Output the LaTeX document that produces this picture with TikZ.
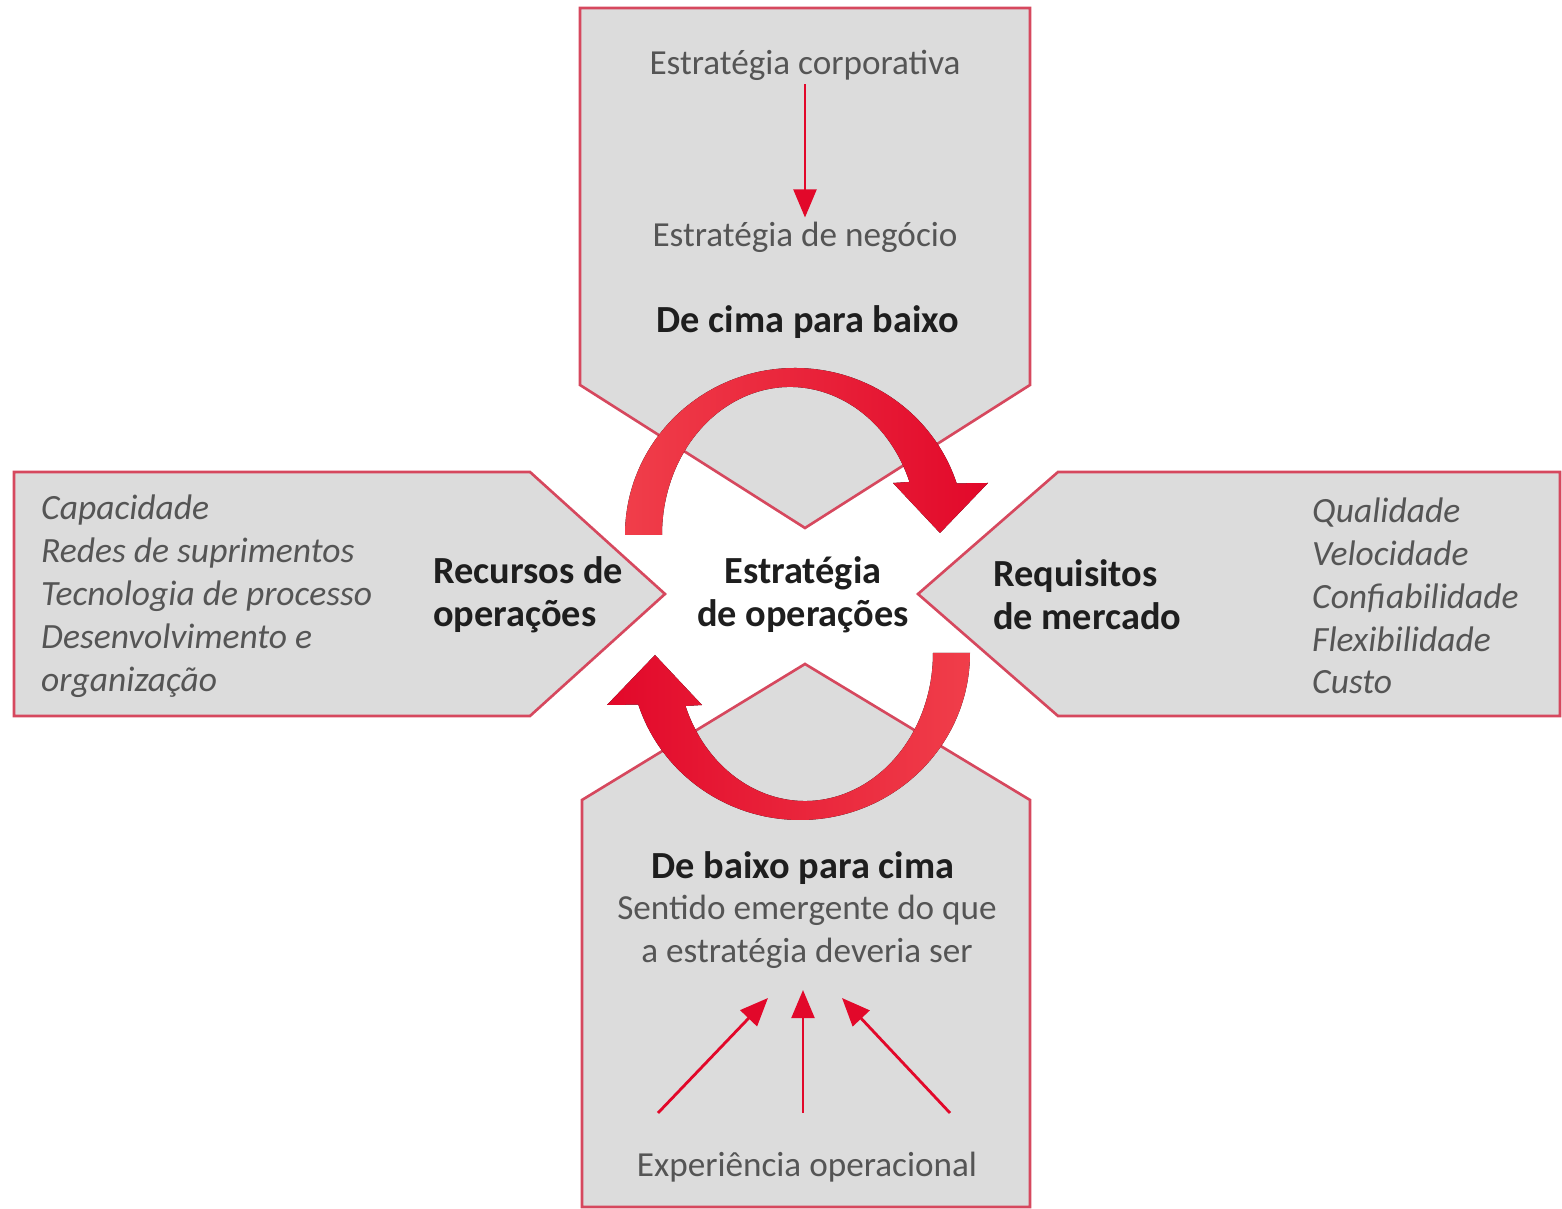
\documentclass[tikz,border=0pt]{standalone}
\usepackage{fontspec}
\setmainfont{Carlito}
\usetikzlibrary{arrows.meta}
\definecolor{boxgray}{RGB}{220,220,220}
\definecolor{boxline}{RGB}{214,72,94}
\definecolor{ringlight}{RGB}{240,62,74}
\definecolor{ringdark}{RGB}{226,8,42}
\definecolor{txtgray}{RGB}{85,85,85}
\definecolor{txtdark}{RGB}{30,30,30}

\begin{document}
\begin{tikzpicture}[x=0.01cm,y=0.01cm,
	panel/.style={fill=boxgray,draw=boxline,line width=0.75pt},
	lbl/.style={text=txtgray,font=\fontsize{10}{12.2}\selectfont,align=center,inner sep=1pt},
	listtxt/.style={lbl,font=\fontsize{10.1}{12.2}\selectfont\itshape,align=left,anchor=west},
	headtxt/.style={text=txtdark,font=\fontsize{10.9}{12.2}\selectfont\bfseries,align=left,inner sep=1pt},
	redline/.style={color=ringdark,line width=0.8pt,-{Triangle[length=8pt,width=6.5pt]}}]

	\useasboundingbox (0,0) rectangle (1562,1209);

	% the four panels
	\draw[panel] (580,1201) -- (1030,1201) -- (1030,824) -- (805,681) -- (580,824) -- cycle;
	\draw[panel] (14,737) -- (530,737) -- (665,615) -- (530,493) -- (14,493) -- cycle;
	\draw[panel] (1560,737) -- (1058,737) -- (918,615) -- (1058,493) -- (1560,493) -- cycle;
	\draw[panel] (582,2) -- (1030,2) -- (1030,409) -- (805,545) -- (582,409) -- cycle;

	% the two round arrows
	\fill[left color=ringlight,right color=ringdark] (625,674) arc[start angle=180,end angle=18,x radius=170,y radius=167] -- (988,726) -- (940,676) -- (893,726) -- ([shift={(790,674)}]21:128 and 148) arc[start angle=21,end angle=180,x radius=128,y radius=148] -- cycle;
	\fill[left color=ringdark,right color=ringlight,rotate around={180:(797.5,615)}] (625,674) arc[start angle=180,end angle=18,x radius=170,y radius=167] -- (988,726) -- (940,676) -- (893,726) -- ([shift={(790,674)}]21:128 and 148) arc[start angle=21,end angle=180,x radius=128,y radius=148] -- cycle;

	% top: de cima para baixo
	\node[lbl] (corp) at (805,1144) {Estratégia corporativa};
	\node[lbl] (neg) at (805,972) {Estratégia de negócio};
	\node[headtxt] (cima) at (808,887) {De cima para baixo};
	\draw[redline] (corp) -- (neg);

	% middle row
	\node[listtxt] (res) at (37,613) {Capacidade\\Redes de suprimentos\\Tecnologia de processo\\Desenvolvimento e\\organização};
	\node[headtxt,anchor=west] (rec) at (429,614) {Recursos de\\operações};
	\node[headtxt,align=center] (est) at (803,614) {Estratégia\\de operações};
	\node[headtxt,anchor=west] (req) at (989,614) {Requisitos\\de mercado};
	\node[listtxt] (mer) at (1308,613) {Qualidade\\Velocidade\\Confiabilidade\\Flexibilidade\\Custo};

	% bottom: de baixo para cima
	\node[headtxt] (baixo) at (803,341) {De baixo para cima};
	\node[lbl] (sent) at (807,277) {Sentido emergente do que\\a estratégia deveria ser};
	\node[lbl] (exp) at (807,42) {Experiência operacional};
	\coordinate (a1) at (658,96);
	\coordinate (a2) at (803,96);
	\coordinate (a3) at (950,96);
	\coordinate (b1) at (768,211);
	\coordinate (b2) at (803,219);
	\coordinate (b3) at (842,211);
	\foreach \i in {1,2,3}
		\draw[redline] (a\i) -- (b\i);

\end{tikzpicture}
\end{document}
